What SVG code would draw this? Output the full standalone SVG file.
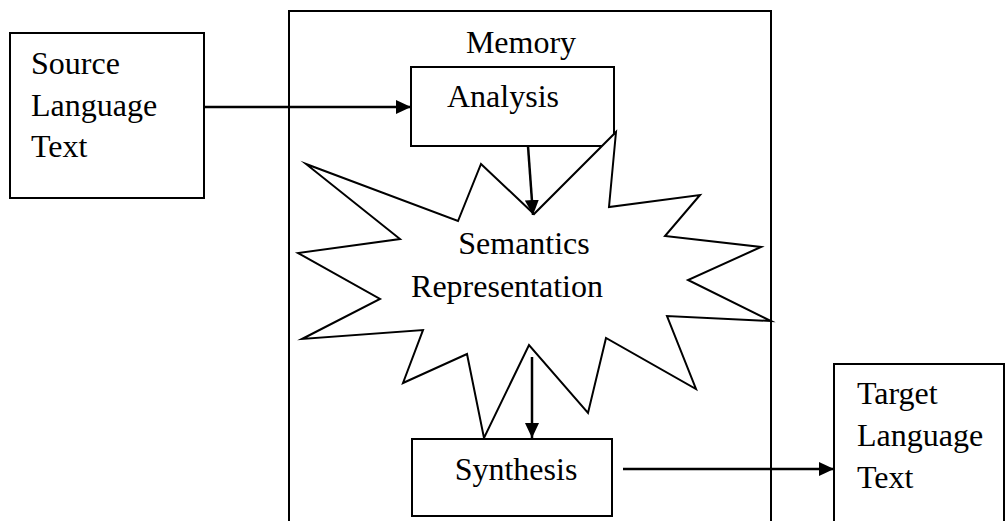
<svg xmlns="http://www.w3.org/2000/svg" width="1006" height="521" viewBox="0 0 1006 521">
  <style>
    .box { fill: #ffffff; stroke: #000000; stroke-width: 2; }
    .frame { fill: none; stroke: #000000; stroke-width: 2; }
    .star { fill: #ffffff; stroke: #000000; stroke-width: 2; stroke-linejoin: miter; stroke-miterlimit: 20; }
    .label { font-family: "Liberation Serif", "Times New Roman", serif; font-size: 32px; fill: #000000; }
    .mid { text-anchor: middle; }
    .conn { fill: none; stroke: #000000; stroke-width: 2.5; }
  </style>
  <defs>
    <marker id="head" markerUnits="userSpaceOnUse" markerWidth="16" markerHeight="14" refX="15" refY="7" orient="auto">
      <path d="M0,0 L15,7 L0,14 Z" fill="#000000"/>
    </marker>
  </defs>

  <!-- Memory container -->
  <g id="memory">
    <path class="frame" d="M289,530 L289,11 L771,11 L771,530"/>
    <text class="label mid" x="521" y="53">Memory</text>
  </g>

  <!-- Source language input -->
  <g id="source">
    <rect class="box" x="10" y="33" width="194" height="165"/>
    <text class="label" x="31" y="74">Source</text>
    <text class="label" x="31" y="115.5">Language</text>
    <text class="label" x="31" y="157">Text</text>
  </g>

  <!-- Analysis stage -->
  <g id="analysis">
    <rect class="box" x="411" y="67" width="203" height="79"/>
    <text class="label mid" x="503" y="107">Analysis</text>
  </g>

  <!-- Semantic representation burst -->
  <g id="semantics">
    <polygon class="star" points="481,164 534,214 616,132 609,207 700,195 665,236 761,247 688,280 771,321 667,316 696,389 606,338 588,413 529,345 484,438 467,354 403,383 423,330 302,339 380,299 298,253 400,239 306,164 458,221"/>
    <text class="label mid" x="524" y="254">Semantics</text>
    <text class="label mid" x="507" y="297">Representation</text>
  </g>

  <!-- Synthesis stage -->
  <g id="synthesis">
    <rect class="box" x="412" y="439" width="200" height="77"/>
    <text class="label mid" x="516" y="480">Synthesis</text>
  </g>

  <!-- Target language output -->
  <g id="target">
    <path class="frame" d="M834,530 L834,364 L1004,364 L1004,530"/>
    <text class="label" x="857" y="404">Target</text>
    <text class="label" x="857" y="446">Language</text>
    <text class="label" x="857" y="488">Text</text>
  </g>

  <!-- Connectors -->
  <g id="connectors">
    <line class="conn" x1="204" y1="107" x2="411" y2="107" marker-end="url(#head)"/>
    <line class="conn" x1="528" y1="146" x2="533" y2="215" marker-end="url(#head)"/>
    <line class="conn" x1="532" y1="357" x2="532" y2="438" marker-end="url(#head)"/>
    <line class="conn" x1="623" y1="469" x2="834" y2="469" marker-end="url(#head)"/>
  </g>
</svg>
